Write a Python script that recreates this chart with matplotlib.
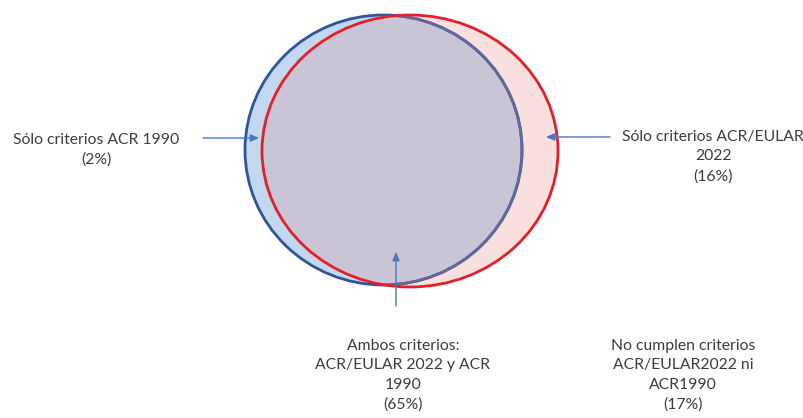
import matplotlib
matplotlib.use("Agg")
import matplotlib.pyplot as plt
from matplotlib.patches import Ellipse

# ---- data ----
region_names = [
    "Sólo criterios ACR 1990",
    "Sólo criterios ACR/EULAR\n2022",
    "Ambos criterios:\nACR/EULAR 2022 y ACR\n1990",
    "No cumplen criterios\nACR/EULAR2022 ni\nACR1990",
]
region_pct = [2, 16, 65, 17]

plt.rcParams['font.family'] = ['Lato', 'DejaVu Sans']

W, H = 804, 418
fig = plt.figure(figsize=(W / 100, H / 100), dpi=100)
ax = fig.add_axes([0, 0, 1, 1])
ax.set_xlim(0, W)
ax.set_ylim(H, 0)
ax.axis('off')

# layout (pixel coordinates)
blue_c, blue_w, blue_h = (383.5, 150), 277, 270
red_c, red_w, red_h = (410, 151), 296, 272

blue_edge = '#2f5597'
red_edge = '#e3202a'

# blue-only fill
ax.add_patch(Ellipse(blue_c, blue_w, blue_h, facecolor='#c3d8ee', edgecolor='none', zorder=1))
# red fill
red_fill = Ellipse(red_c, red_w, red_h, facecolor='#f9dfdd', edgecolor='none', zorder=2)
ax.add_patch(red_fill)
# overlap
ov = Ellipse(blue_c, blue_w, blue_h, facecolor='#cac4d7', edgecolor='none', zorder=3)
ax.add_patch(ov)
ov.set_clip_path(red_fill)
# blue edge
ax.add_patch(Ellipse(blue_c, blue_w, blue_h, facecolor='none', edgecolor=blue_edge, lw=2.0, zorder=4))
clip_red = Ellipse(red_c, red_w, red_h, facecolor='none', edgecolor='none')
ax.add_patch(clip_red)
be2 = Ellipse(blue_c, blue_w, blue_h, facecolor='none', edgecolor='#63679a', lw=2.0, zorder=5)
ax.add_patch(be2)
be2.set_clip_path(clip_red)
# red edge
ax.add_patch(Ellipse(red_c, red_w, red_h, facecolor='none', edgecolor=red_edge, lw=2.0, zorder=6))

# arrows
arrow_kw = dict(arrowstyle='-|>,head_length=0.5,head_width=0.22', color='#4a76c0', lw=1.0,
                shrinkA=0, shrinkB=0)
ax.annotate('', xy=(259, 138), xytext=(203, 138), arrowprops=arrow_kw, zorder=7)
ax.annotate('', xy=(546, 137), xytext=(610, 137), arrowprops=arrow_kw, zorder=7)
ax.annotate('', xy=(396, 252), xytext=(396, 306), arrowprops=arrow_kw, zorder=7)

tcol = '#3c3c3c'
fs = 11.3
ls = 1.5

def label(x, y_top, i):
    ax.text(x, y_top, f"{region_names[i]}\n({region_pct[i]}%)", ha='center', va='top',
            fontsize=fs, color=tcol, linespacing=ls, zorder=8)

label(96, 133, 0)
label(713, 130, 1)
label(403, 339, 2)
label(683, 339, 3)

fig.savefig('out.png', dpi=100, facecolor='white')
